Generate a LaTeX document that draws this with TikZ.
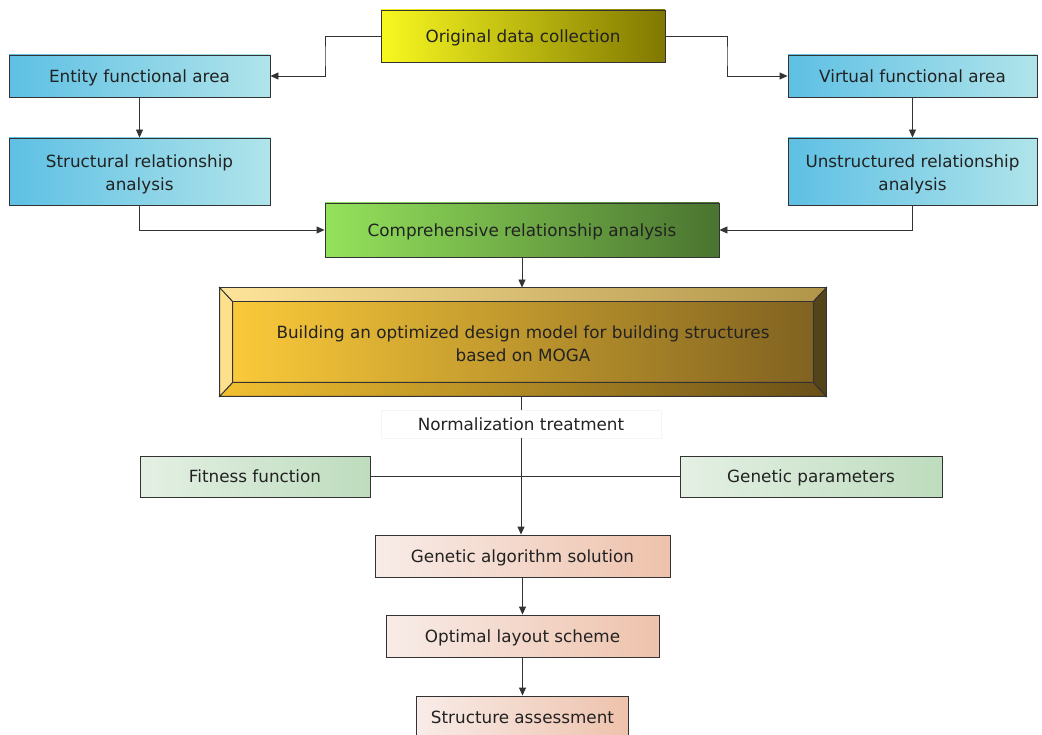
\documentclass[tikz,border=0pt]{standalone}
\usepackage{fontspec}
\setmainfont{DejaVu Sans}
\usetikzlibrary{arrows.meta}
\definecolor{txt}{HTML}{222222}
\definecolor{ln}{HTML}{333333}
\definecolor{blueL}{HTML}{5EC0E4}
\definecolor{blueR}{HTML}{B0E4EA}
\definecolor{yelL}{HTML}{F8F820}
\definecolor{yelR}{HTML}{807800}
\definecolor{grnL}{HTML}{94E25C}
\definecolor{grnR}{HTML}{4A7430}
\definecolor{fitL}{HTML}{E4F0E4}
\definecolor{fitR}{HTML}{BEDCBE}
\definecolor{gaL}{HTML}{F8ECE8}
\definecolor{gaR}{HTML}{EEC2AC}
\definecolor{bldL}{HTML}{FDCC3A}
\definecolor{bldR}{HTML}{7E6020}
\definecolor{bevTL}{HTML}{FDE49A}
\definecolor{bevTR}{HTML}{B09448}
\definecolor{bevBL}{HTML}{F2C030}
\definecolor{bevBR}{HTML}{6A5018}
\definecolor{bevL}{HTML}{FDE08E}
\definecolor{bevR}{HTML}{54441A}
\tikzset{
  box/.style={draw=ln, line width=0.9pt, text=txt, align=center, inner sep=2pt,
    font=\fontsize{16.8}{23}\selectfont},
  one/.style={text height=16.5pt, text depth=4pt},
  two/.style={text height=43pt, text depth=4pt},
  bluebox/.style={box, left color=blueL, right color=blueR},
  arr/.style={draw=ln, line width=0.9pt, -{Triangle[length=8pt,width=7pt]}},
  ln/.style={draw=ln, line width=0.9pt},
}
\begin{document}
\begin{tikzpicture}[x=1pt,y=-1pt]
\useasboundingbox (0,0) rectangle (1042,735);
% nodes
\node[box, one, left color=yelL, right color=yelR, minimum width=284, minimum height=52] (orig) at (523,36) {Original data collection};
\node[bluebox, one, minimum width=261, minimum height=42] (ent) at (139.5,76) {Entity functional area};
\node[bluebox, one, minimum width=249, minimum height=42] (vir) at (912.5,76) {Virtual functional area};
\node[bluebox, two, minimum width=261, minimum height=67] (str) at (139.5,171.5) {Structural relationship\\analysis};
\node[bluebox, two, minimum width=249, minimum height=67] (uns) at (912.5,171.5) {Unstructured relationship\\analysis};
\node[box, one, left color=grnL, right color=grnR, minimum width=394, minimum height=54] (comp) at (522,230) {Comprehensive relationship analysis};
\node[box, two, left color=bldL, right color=bldR, minimum width=606, minimum height=108] (bld) at (523,342) {Building an optimized design model for building structures\\based on MOGA};
% bevels
\path[ln, left color=bevTL, right color=bevTR] (bld.north west) -- (bld.north east) -- ([xshift=-13,yshift=-14]bld.north east) -- ([xshift=13,yshift=-14]bld.north west) -- cycle;
\path[ln, left color=bevBL, right color=bevBR] (bld.south west) -- (bld.south east) -- ([xshift=-13,yshift=14]bld.south east) -- ([xshift=13,yshift=14]bld.south west) -- cycle;
\path[ln, fill=bevL] (bld.north west) -- ([xshift=13,yshift=-14]bld.north west) -- ([xshift=13,yshift=14]bld.south west) -- (bld.south west) -- cycle;
\path[ln, fill=bevR] (bld.north east) -- ([xshift=-13,yshift=-14]bld.north east) -- ([xshift=-13,yshift=14]bld.south east) -- (bld.south east) -- cycle;
\node[box, one, draw=gray!8, fill=white, minimum width=280, minimum height=28] (norm) at (521,424) {Normalization treatment};
\node[box, one, left color=fitL, right color=fitR, minimum width=230, minimum height=41] (fit) at (255,476.5) {Fitness function};
\node[box, one, left color=fitL, right color=fitR, minimum width=262, minimum height=41] (gp) at (811,476.5) {Genetic parameters};
\node[box, one, left color=gaL, right color=gaR, minimum width=295, minimum height=42] (ga) at (522.5,556) {Genetic algorithm solution};
\node[box, one, left color=gaL, right color=gaR, minimum width=273, minimum height=42] (opt) at (522.5,636) {Optimal layout scheme};
\node[box, one, left color=gaL, right color=gaR, minimum width=212, minimum height=42] (sa) at (522.5,717) {Structure assessment};
% connectors
\draw[arr] (orig.west) -| (325,56) |- (ent.east);
\draw[arr] (orig.east) -| (727,56) |- (vir.west);
\draw[arr] (ent) -- (str);
\draw[arr] (vir) -- (uns);
\draw[arr] (str.south) |- (comp.west);
\draw[arr] (uns.south) |- (comp.east);
\draw[arr] (comp.south) -- (comp.south |- bld.north);
\draw[ln] (bld.south -| norm.north) -- (norm.north);
\draw[arr] (norm.south) -- (norm.south |- ga.north);
\draw[ln] (fit.east) -- (gp.west);
\draw[arr] (ga) -- (opt);
\draw[arr] (opt) -- (sa);
\end{tikzpicture}
\end{document}
